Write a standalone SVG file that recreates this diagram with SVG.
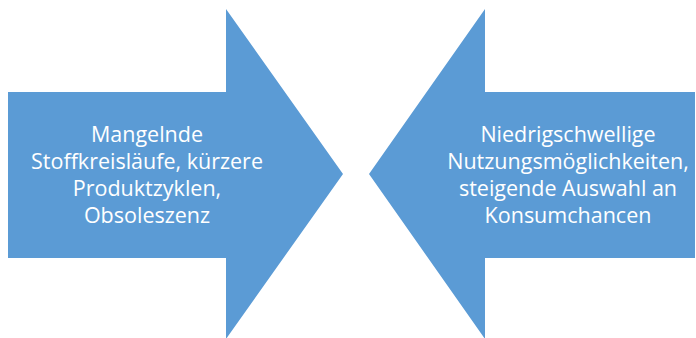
<svg xmlns="http://www.w3.org/2000/svg" width="696" height="338" viewBox="0 0 696 338">
<style>
.arrow{fill:#5B9BD5;stroke:none}
.lbl{font-family:"Open Sans","Liberation Sans",sans-serif;font-size:21.5px;fill:#FFFFFF;text-anchor:middle}
</style>
<rect width="696" height="338" fill="#FFFFFF"/>
<g id="arrow-left">
<polygon class="arrow" points="8,92 226,92 226,9 343,174 226,339 226,258 8,258"/>
<text class="lbl" x="147" y="142">Mangelnde</text>
<text class="lbl" x="147" y="169">Stoffkreisläufe, kürzere</text>
<text class="lbl" x="147" y="196">Produktzyklen,</text>
<text class="lbl" x="147" y="223">Obsoleszenz</text>
</g>
<g id="arrow-right">
<polygon class="arrow" points="695,92 485,92 485,9 369,174 485,339 485,258 695,258"/>
<text class="lbl" x="568" y="142">Niedrigschwellige</text>
<text class="lbl" x="568" y="169">Nutzungsmöglichkeiten,</text>
<text class="lbl" x="568" y="196">steigende Auswahl an</text>
<text class="lbl" x="568" y="223">Konsumchancen</text>
</g>
<g id="connectors"></g>
</svg>
